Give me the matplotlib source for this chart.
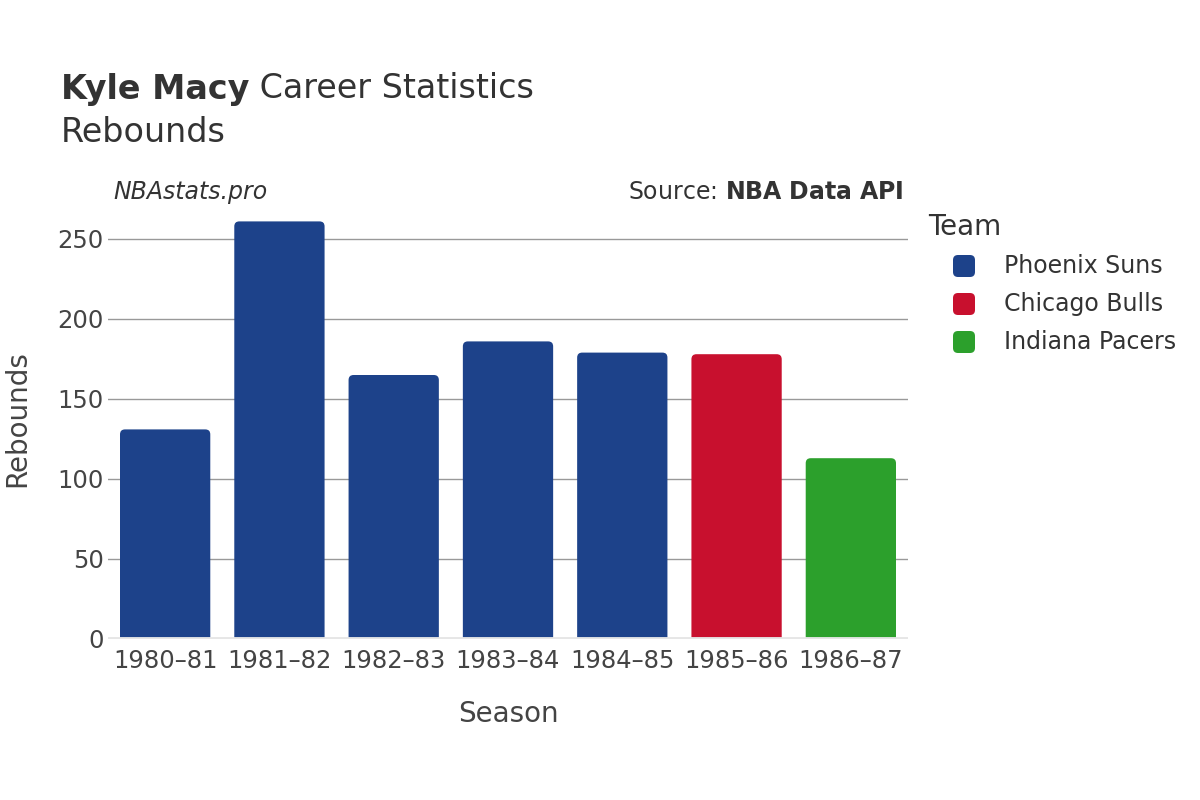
#!/usr/bin/env python3

import matplotlib
matplotlib.use('Agg')
from matplotlib import pyplot as plt
from matplotlib.patches import FancyBboxPatch

seasons = ['1980–81', '1981–82', '1982–83', '1983–84', '1984–85', '1985–86', '1986–87']
rebounds = [131, 261, 165, 186, 179, 178, 113]
teams = ['Phoenix Suns', 'Phoenix Suns', 'Phoenix Suns', 'Phoenix Suns',
         'Phoenix Suns', 'Chicago Bulls', 'Indiana Pacers']
team_order = ['Phoenix Suns', 'Chicago Bulls', 'Indiana Pacers']
team_colors = {'Phoenix Suns': '#1d428a', 'Chicago Bulls': '#c8102e',
               'Indiana Pacers': '#2ca02c'}
yticks = [0, 50, 100, 150, 200, 250]

W, H = 1200, 800

def fx(px):
    return px / W

def fy(py):
    return 1 - py / H

def main():
    plt.rcParams['font.family'] = ['DejaVu Sans']
    txt = '#444444'
    dark = '#333333'
    fig = plt.figure(figsize=(12, 8), dpi=100)
    # axes: x 108..908 px, y 215..639 px
    ax = fig.add_axes([fx(108), fy(639), 800/W, 424/H])
    ax.set_xlim(-0.5, len(seasons) - 0.5)
    ymax = 265
    ax.set_ylim(0, ymax)

    bars = ax.bar(range(len(seasons)), rebounds, width=0.79, alpha=0)
    # data units per pixel
    px_x = len(seasons) / 800
    px_y = ymax / 424
    r = 5
    for b, t in zip(bars, teams):
        x, w, h = b.get_x(), b.get_width(), b.get_height()
        p = FancyBboxPatch((x, -r*px_y*2), w, h + r*px_y*2,
                           boxstyle='round,pad=0,rounding_size=%f' % (r*px_x),
                           mutation_aspect=px_y/px_x,
                           fc=team_colors[t], ec='none', zorder=3,
                           clip_on=True)
        ax.add_patch(p)

    ax.set_yticks(yticks)
    ax.set_xticks(range(len(seasons)))
    ax.set_xticklabels(seasons)
    ax.tick_params(axis='both', length=0, labelsize=17.5, colors=txt)
    ax.tick_params(axis='x', pad=7)
    ax.tick_params(axis='y', pad=3)
    ax.grid(axis='y', color='#999999', lw=1)
    ax.set_axisbelow(True)
    for s in ax.spines.values():
        s.set_visible(False)
    ax.axhline(0, color='#e6e6e6', lw=3.5, zorder=4)

    ax.set_xlabel('Season', fontsize=20, color=txt, labelpad=20)
    ax.set_ylabel('Rebounds', fontsize=20, color=txt)
    # y label: right edge near x=31 px, centre near y=419 px
    ax.yaxis.set_label_coords((31 - 108) / 800, (639 - 419) / 424)

    t1 = fig.text(fx(61), fy(89), 'Kyle Macy', fontsize=24, color=dark,
                  va='center', fontweight='bold')
    fig.canvas.draw()
    bb = t1.get_window_extent()
    fig.text(bb.x1/W, fy(89), ' Career Statistics', fontsize=24,
             color=dark, va='center')
    fig.text(fx(61), fy(133), 'Rebounds', fontsize=24, color=dark,
             va='center')
    fig.text(fx(113), fy(192), 'NBAstats.pro', fontsize=17, color=dark,
             va='center', style='italic')
    fig.text(fx(904), fy(192), r'Source: $\bf{NBA\ Data\ API}$', fontsize=17,
             color=dark, va='center', ha='right')

    # legend
    fig.text(fx(928), fy(227), 'Team', fontsize=20, color=dark, va='center')
    for i, t in enumerate(team_order):
        y = 266 + 38 * i
        fig.add_artist(FancyBboxPatch((fx(953), fy(y + 11)), 22/W, 22/H,
                                      boxstyle='round,pad=0,rounding_size=%f' % (5/W),
                                      mutation_aspect=W/H,
                                      transform=fig.transFigure,
                                      fc=team_colors[t], ec='none'))
        fig.text(fx(1004), fy(y), t, fontsize=17, color=dark, va='center')

    fig.savefig('out.png', dpi=100)

if __name__ == '__main__':
    main()
